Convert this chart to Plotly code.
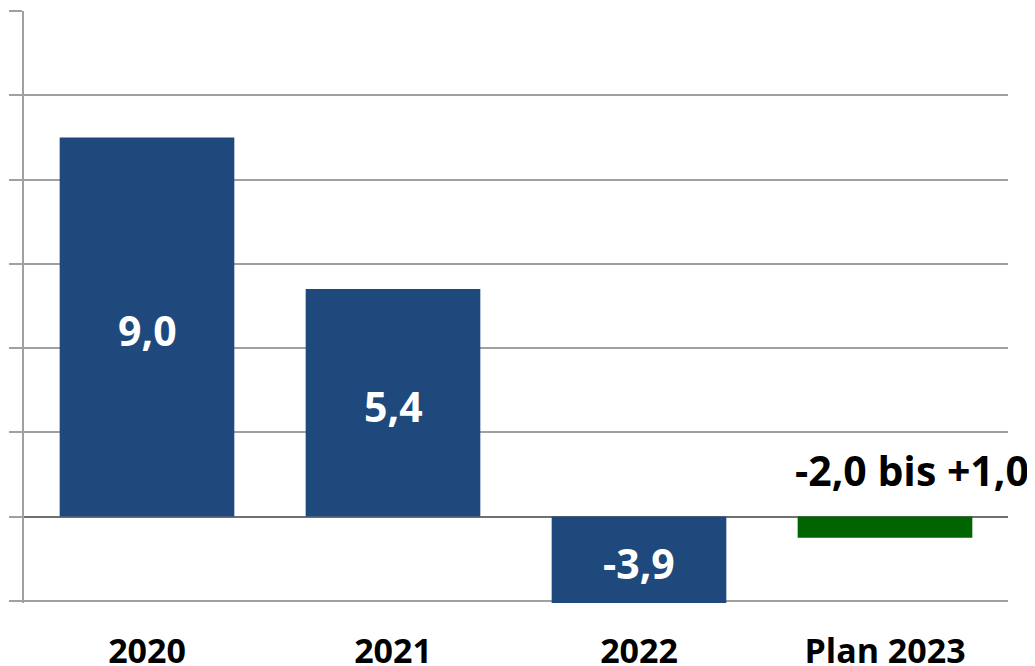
import plotly.graph_objects as go

categories = ["2020", "2021", "2022", "Plan 2023"]
values = [9.0, 5.4, -3.9, -0.5]
value_labels = ["9,0", "5,4", "-3,9", ""]
plan_label = "-2,0 bis +1,0"
bar_colors = ["#1F497D", "#1F497D", "#1F497D", "#006400"]

y_min, y_max = -2.05, 12
positions = list(range(len(categories)))

fig = go.Figure()
fig.add_trace(go.Bar(
    x=positions, y=values, width=0.71,
    marker=dict(color=bar_colors, line=dict(width=0)),
    hoverinfo="skip",
))

# value labels centred in the visible part of each bar
for p, v, t in zip(positions, values, value_labels):
    if not t:
        continue
    vis = max(min(v, y_max), y_min)
    fig.add_annotation(x=p, y=vis / 2, text=t, showarrow=False,
                       font=dict(family="Open Sans", size=41, color="white", weight="bold"),
                       xanchor="center", yanchor="middle", yshift=-3)

fig.add_annotation(x=positions[3], y=0, text=plan_label, showarrow=False,
                   font=dict(family="Open Sans", size=41, color="black", weight="bold"),
                   xanchor="left", yanchor="middle", xshift=-92, yshift=47)

# page body has an 8px margin: the figure is sized to fill the rest of the window
fig.update_layout(
    width=1027, height=658,
    margin=dict(l=16, r=27, t=3, b=63, autoexpand=False),
    paper_bgcolor="white", plot_bgcolor="white",
    showlegend=False,
    yaxis=dict(range=[y_min, y_max], dtick=2, showticklabels=False, automargin=False,
               ticks="outside", ticklen=13, tickcolor="#A0A0A0", tickwidth=2,
               showline=True, linecolor="#A0A0A0", linewidth=2,
               showgrid=True, gridcolor="#A0A0A0", gridwidth=2,
               zeroline=True, zerolinecolor="#707070", zerolinewidth=2),
    xaxis=dict(range=[-0.5, len(categories) - 0.5], tickmode="array",
               tickvals=positions, ticktext=categories, ticklabelstandoff=25,
               showline=False, ticks="", showgrid=False, zeroline=False, automargin=False,
               tickfont=dict(family="Open Sans", size=34, color="black", weight="bold")),
)

fig.write_html("out.html")
